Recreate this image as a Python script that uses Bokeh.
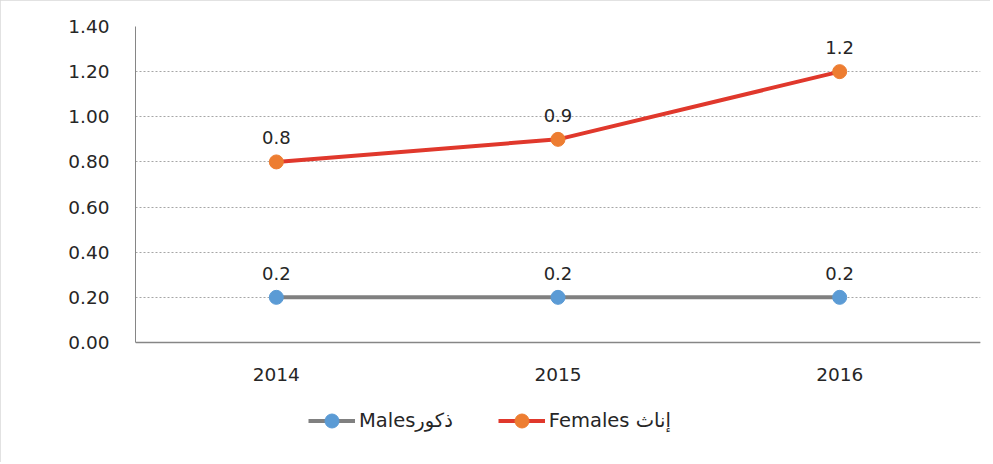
from bokeh.plotting import figure
from bokeh.models import ColumnDataSource, LabelSet, Legend, LegendItem, FixedTicker, CustomJSTickFormatter
from bokeh.core.properties import value
from bokeh.embed import file_html
from bokeh.resources import INLINE

years = ["2014", "2015", "2016"]
males = [0.2, 0.2, 0.2]
females = [0.8, 0.9, 1.2]
male_labels = ["0.2", "0.2", "0.2"]
female_labels = ["0.8", "0.9", "1.2"]
y_ticks = [0.0, 0.2, 0.4, 0.6, 0.8, 1.0, 1.2, 1.4]
male_name = "Malesذكور"
female_name = "Females إناث"

FONT = "DejaVu Sans"

src_m = ColumnDataSource(dict(x=years, y=males, t=male_labels))
src_f = ColumnDataSource(dict(x=years, y=females, t=female_labels))

# frame extends below the x axis to host the legend; axis fixed at y=0
p = figure(x_range=years, y_range=(-0.4785, 1.4), width=990, height=462,
           output_backend="svg", toolbar_location=None,
           min_border_left=135, min_border_top=26, min_border_right=10, min_border_bottom=12)
p.x_range.range_padding = 0
p.outline_line_color = None
p.styles = {"outline": "1px solid #d9d9d9", "outline-offset": "-1px"}

lm = p.line("x", "y", source=src_m, line_color="#808080", line_width=4)
sm = p.scatter("x", "y", source=src_m, size=14, fill_color="#5b9bd5", line_color="#5b9bd5")
lf = p.line("x", "y", source=src_f, line_color="#e0382c", line_width=4)
sf = p.scatter("x", "y", source=src_f, size=14, fill_color="#ed7d31", line_color="#ed7d31")

for s in (src_m, src_f):
    p.add_layout(LabelSet(x="x", y="y", text="t", source=s, y_offset=24,
                          text_align="center", text_baseline="middle",
                          text_font=value(FONT), text_font_size="18px", text_color="#262626"))

p.yaxis.ticker = FixedTicker(ticks=y_ticks)
p.yaxis.bounds = (0, 1.4)
p.yaxis.formatter = CustomJSTickFormatter(code="return tick.toFixed(2);")
p.yaxis.major_tick_line_color = None
p.yaxis.minor_tick_line_color = None
p.yaxis.axis_line_color = "#868686"
p.yaxis.major_label_standoff = 20
p.yaxis.major_label_text_font = FONT
p.yaxis.major_label_text_font_size = "18.5px"
p.yaxis.major_label_text_color = "#262626"

p.xaxis.fixed_location = 0
p.xaxis.major_tick_line_color = None
p.xaxis.axis_line_color = "#868686"
p.xaxis.axis_line_width = 1.5
p.xaxis.major_label_standoff = 20
p.xaxis.major_label_text_font = FONT
p.xaxis.major_label_text_font_size = "18.5px"
p.xaxis.major_label_text_color = "#262626"

p.xgrid.grid_line_color = None
p.ygrid.grid_line_color = "#a6a6a6"
p.ygrid.grid_line_dash = "2 2"
p.ygrid.grid_line_width = 1
p.ygrid.bounds = (0, 1.4)

legend = Legend(items=[LegendItem(label=male_name, renderers=[lm, sm]),
                       LegendItem(label=female_name, renderers=[lf, sf])],
                orientation="horizontal", location=(173, 12),
                label_text_font=FONT, label_text_font_size="19.5px", label_text_color="#262626",
                glyph_width=47, glyph_height=35, spacing=45, border_line_color=None,
                background_fill_alpha=0, label_standoff=4, padding=0, margin=0)
p.add_layout(legend)

open("out.html", "w").write(file_html(p, INLINE))
